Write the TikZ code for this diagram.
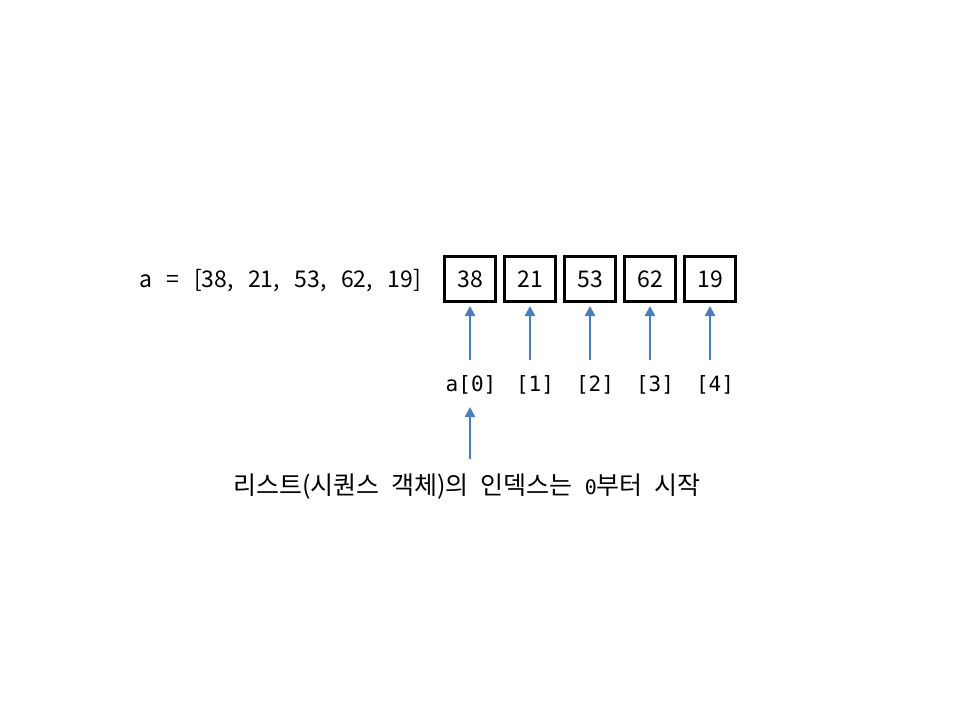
\documentclass[tikz,border=0pt]{standalone}
\usepackage{fontspec}
\setmainfont{Noto Sans CJK KR}
\newfontfamily\monof{DejaVu Sans Mono}
\usetikzlibrary{arrows.meta}
\definecolor{arrowblue}{HTML}{4A7EBB}
\newcommand{\wsp}{\hspace{14.5pt}}
\newcommand{\ksp}{\hspace{12pt}}
\begin{document}
\begin{tikzpicture}[x=1pt,y=-1pt,
  cell/.style={draw=black,line width=3pt,minimum width=51pt,minimum height=45pt,inner sep=0pt,font=\fontsize{23}{27}\selectfont},
  idx/.style={font=\monof\fontsize{21}{25}\selectfont,inner sep=0pt},
  ptr/.style={draw=arrowblue,line width=2.8pt,-{Triangle[length=10pt,width=10pt]}}]
\useasboundingbox (0,0) rectangle (960,720);
\node[cell] (c0) at (470,279) {38};
\node[cell] (c1) at (530,279) {21};
\node[cell] (c2) at (590,279) {53};
\node[cell] (c3) at (650,279) {62};
\node[cell] (c4) at (710,279) {19};
\node[anchor=east,font=\fontsize{23}{27}\selectfont,inner sep=0pt] (lst) at (421,281) {a\wsp=\wsp[38,\wsp21,\wsp53,\wsp62,\wsp19]};
\node[idx] (i0) at (471,385) {a[0]};
\node[idx] (i1) at (535,385) {[1]};
\node[idx] (i2) at (595,385) {[2]};
\node[idx] (i3) at (655,385) {[3]};
\node[idx] (i4) at (715,385) {[4]};
\foreach \k/\x in {0/470,1/530,2/590,3/650,4/710}{
  \coordinate (s\k) at (\x,360);
  \coordinate (e\k) at (\x,306);
  \draw[ptr] (s\k) -- (e\k);
}
\node[font=\fontsize{25}{29}\selectfont,inner sep=0pt] (note) at (467,487) {리스트(시퀀스\ksp 객체)의\ksp 인덱스는\ksp {\monof\fontsize{20}{24}\selectfont 0}부터\ksp 시작};
\coordinate (ns) at (470,459);
\coordinate (ne) at (470,407);
\draw[ptr] (ns) -- (ne);
\end{tikzpicture}
\end{document}
